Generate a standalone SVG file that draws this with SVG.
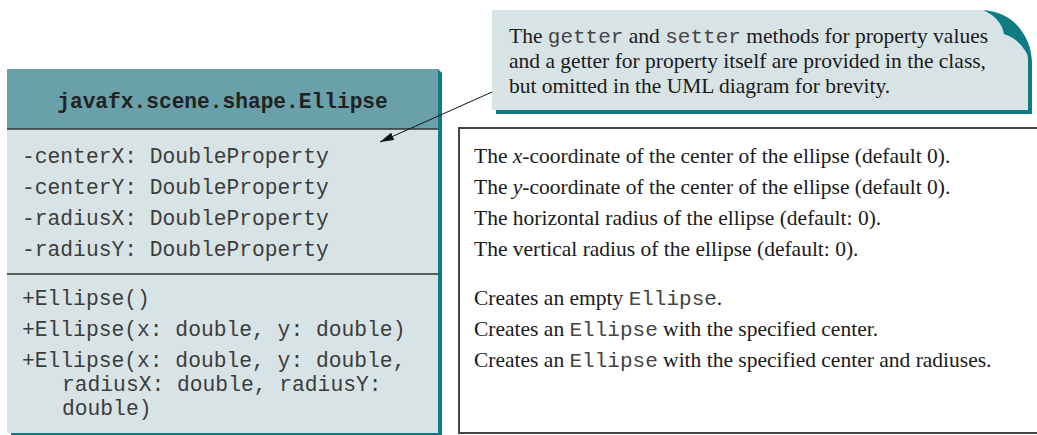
<svg xmlns="http://www.w3.org/2000/svg" width="1037" height="435" viewBox="0 0 1037 435">
<defs>
<style>
.mono{font-family:"Liberation Mono","Courier New",monospace;font-size:21.3px;fill:#3c3c3c}
.hdr{font-family:"Liberation Mono","Courier New",monospace;font-size:21.2px;font-weight:bold;fill:#222}
.ser{font-family:"Liberation Serif","Times New Roman",serif;font-size:21.5px;fill:#1a1a1a}
.im{font-family:"Liberation Mono","Courier New",monospace;font-size:21px;fill:#444}
.teal{fill:#0f7b82}
.light{fill:#d8e3e6}
.sep{stroke:#333;stroke-width:1.5}
</style>
<marker id="ah" viewBox="0 0 14 8" refX="14" refY="4" markerWidth="14" markerHeight="8" markerUnits="userSpaceOnUse" orient="auto">
<path d="M0,0 L14,4 L0,8 Z" fill="#111"/>
</marker>
</defs>
<rect width="1037" height="435" fill="#fff"/>

<g id="class-ellipse">
<path class="teal" d="M11,72 L438,69 L442,73 L442,435 L11,435 Z"/>
<rect x="7" y="69" width="431" height="364" class="light"/>
<rect x="7" y="69" width="431" height="60" fill="#69a0aa"/>
<line x1="7" y1="129" x2="438" y2="129" class="sep"/>
<line x1="7" y1="274" x2="438" y2="274" class="sep"/>
<text x="222.5" y="108" text-anchor="middle" class="hdr">javafx.scene.shape.Ellipse</text>
<text x="22" y="163" class="mono">-centerX: DoubleProperty</text>
<text x="22" y="194" class="mono">-centerY: DoubleProperty</text>
<text x="22" y="225" class="mono">-radiusX: DoubleProperty</text>
<text x="22" y="256" class="mono">-radiusY: DoubleProperty</text>
<text x="22" y="305" class="mono">+Ellipse()</text>
<text x="22" y="336" class="mono">+Ellipse(x: double, y: double)</text>
<text x="22" y="367" class="mono">+Ellipse(x: double, y: double,</text>
<text x="62" y="391" class="mono">radiusX: double, radiusY:</text>
<text x="62" y="415" class="mono">double)</text>
</g>

<g id="descriptions">
<path d="M1040,128 H459 V433 H1040" fill="#fff" stroke="#444" stroke-width="2"/>
<text x="474" y="163" class="ser">The <tspan font-style="italic">x</tspan>-coordinate of the center of the ellipse (default 0).</text>
<text x="474" y="194" class="ser">The <tspan font-style="italic">y</tspan>-coordinate of the center of the ellipse (default 0).</text>
<text x="474" y="225" class="ser">The horizontal radius of the ellipse (default: 0).</text>
<text x="474" y="256" class="ser">The vertical radius of the ellipse (default: 0).</text>
<text x="474" y="305" class="ser">Creates an empty <tspan class="im">Ellipse</tspan>.</text>
<text x="474" y="336" class="ser">Creates an <tspan class="im">Ellipse</tspan> with the specified center.</text>
<text x="474" y="367" class="ser">Creates an <tspan class="im">Ellipse</tspan> with the specified center and radiuses.</text>
</g>

<g id="note">
<path class="teal" d="M496,14 H989 Q1031,22 1032,64 V114 H496 Z"/>
<path class="light" d="M492,10 H985 Q1027,18 1028,60 V110 H492 Z"/>
<path class="teal" d="M983,10 Q1028,14 1032,66 Q1024,40 1004,34 Q1001,18 983,10 Z"/>
<text x="509" y="43" class="ser">The <tspan class="im">getter</tspan> and <tspan class="im">setter</tspan> methods for property values</text>
<text x="509" y="68" class="ser">and a getter for property itself are provided in the class,</text>
<text x="509" y="93" class="ser">but omitted in the UML diagram for brevity.</text>
</g>

<g id="connectors">
<line x1="492" y1="92" x2="380" y2="142" stroke="#111" stroke-width="1" marker-end="url(#ah)"/>
</g>
</svg>
